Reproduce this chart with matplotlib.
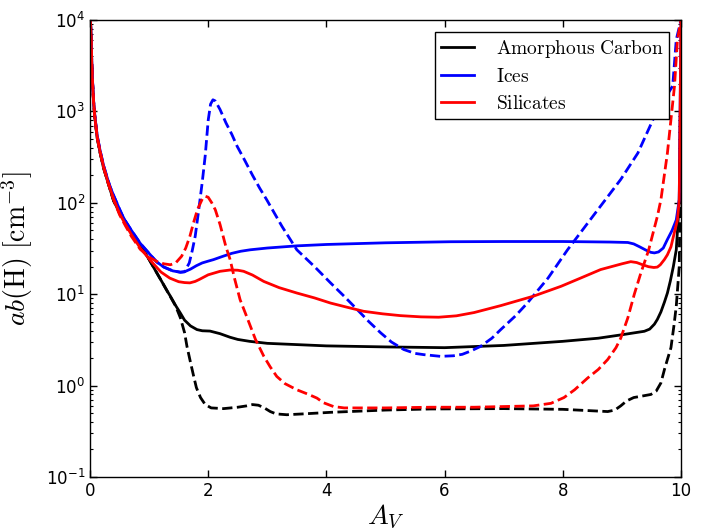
import numpy as np
import matplotlib
matplotlib.use("Agg")
import matplotlib.pyplot as plt

plt.rcParams['mathtext.fontset'] = 'cm'
plt.rcParams['font.family'] = 'DejaVu Sans'

# amorphous carbon (solid / dashed)
carbon_x = [0, 0.01, 0.02, 0.03, 0.04, 0.06, 0.08, 0.12, 0.17, 0.23, 0.3, 0.4, 0.5, 0.6,
            0.68, 0.8, 0.9, 1.0, 1.1, 1.2, 1.3, 1.36, 1.45, 1.53, 1.6, 1.7, 1.81, 1.9, 2.03,
            2.2, 2.37, 2.5, 2.7, 3.0, 4.0, 5.0, 6.0, 7.0, 8.0, 8.6, 9.0, 9.38, 9.47, 9.55,
            9.6, 9.66, 9.72, 9.77, 9.82, 9.87, 9.92, 9.97, 10.0]
carbon_y = [1e4, 9000, 6000, 3300, 2250, 1280, 880, 520, 355, 240, 170, 105, 78, 62,
            50, 39, 30.6, 24, 18.5, 14.3, 11, 9.5, 7.5, 6.2, 5.2, 4.5, 4.1, 3.98, 3.95,
            3.7, 3.38, 3.2, 3.05, 2.9, 2.72, 2.65, 2.6, 2.75, 3.05, 3.3, 3.6, 3.93, 4.15, 4.7,
            5.3, 6.4, 8.2, 10.3, 14, 20, 30.6, 100, 3000]
carbon_d_x = [0, 0.01, 0.02, 0.03, 0.04, 0.06, 0.08, 0.12, 0.17, 0.23, 0.3, 0.4, 0.5, 0.6,
              0.68, 0.8, 0.9, 1.0, 1.1, 1.2, 1.3, 1.36, 1.45, 1.53, 1.6, 1.64, 1.7, 1.75,
              1.8, 1.87, 1.95, 2.05, 2.26, 2.5, 2.65, 2.75, 2.85, 2.95, 3.05, 3.15, 3.33, 3.6,
              4.07, 5.0, 5.76, 7.0, 8.0, 8.5, 8.76, 8.88, 8.98, 9.08, 9.2, 9.35, 9.49, 9.58,
              9.66, 9.72, 9.77, 9.83, 9.88, 9.92, 9.97, 10.0]
carbon_d_y = [1e4, 9000, 6000, 3300, 2250, 1280, 880, 520, 355, 240, 170, 105, 78, 62,
              50, 39, 30.6, 24, 18.5, 14.3, 11, 9.4, 7.4, 5.5, 3.8, 2.7, 1.8, 1.3,
              0.95, 0.74, 0.62, 0.57, 0.56, 0.58, 0.6, 0.62, 0.61, 0.57, 0.52, 0.49, 0.48, 0.49,
              0.51, 0.54, 0.555, 0.56, 0.55, 0.53, 0.52, 0.54, 0.6, 0.68, 0.74, 0.77, 0.8, 0.87,
              1.07, 1.5, 1.93, 2.6, 4.5, 7.4, 20, 1000]

# ices (solid / dashed)
ice_x = [0, 0.01, 0.02, 0.03, 0.04, 0.06, 0.08, 0.12, 0.17, 0.23, 0.3, 0.34, 0.4, 0.5,
         0.56, 0.6, 0.7, 0.85, 1.02, 1.13, 1.25, 1.4, 1.53, 1.6, 1.7, 1.8, 1.9, 2.0, 2.09,
         2.25, 2.4, 2.55, 2.71, 3.0, 3.5, 4.0, 5.0, 6.1, 7.0, 8.0, 8.8, 9.1, 9.2, 9.3, 9.4,
         9.49, 9.55, 9.62, 9.7, 9.77, 9.85, 9.92, 9.97, 10.0]
ice_y = [1e4, 9200, 6300, 3450, 2350, 1330, 920, 550, 375, 255, 180, 150, 120, 85,
         70, 63, 50, 36, 27, 22.5, 19.8, 18, 17.4, 17.6, 18.8, 20.5, 22, 23, 23.9,
         26, 28, 29.5, 30.6, 32, 33.8, 35, 36.5, 37.5, 37.7, 37.7, 37.2, 36.8, 35.5, 33, 30.5,
         28.7, 28.3, 29, 32, 39.7, 50, 65, 108, 1e4]
ice_d_x = [0, 0.01, 0.02, 0.03, 0.04, 0.06, 0.08, 0.12, 0.17, 0.23, 0.3, 0.34, 0.4, 0.5,
           0.56, 0.6, 0.7, 0.85, 1.02, 1.13, 1.25, 1.4, 1.53, 1.6, 1.68, 1.73, 1.78, 1.84,
           1.9, 1.95, 2.0, 2.04, 2.08, 2.12, 2.2, 2.3, 2.4, 2.49, 2.62, 2.75, 2.87, 2.99,
           3.25, 3.5, 3.8, 4.07, 4.3, 4.52, 4.72, 4.92, 5.1, 5.31, 5.5, 5.65, 5.93, 6.15,
           6.3, 6.45, 6.61, 6.8, 6.95, 7.2, 7.4, 7.75, 8.08, 8.5, 8.98, 9.27, 9.55, 9.7,
           9.86, 9.92, 10.0]
ice_d_y = [1e4, 9200, 6300, 3450, 2350, 1330, 920, 550, 375, 255, 180, 150, 120, 85,
           70, 63, 50, 36, 27, 22.5, 19.8, 18, 17.4, 17.6, 22, 30, 43, 84,
           170, 330, 800, 1200, 1340, 1300, 1050, 750, 560, 415, 290, 200, 145, 108,
           55, 30.6, 20, 13.3, 9.5, 6.8, 5.0, 3.77, 3.0, 2.48, 2.25, 2.18, 2.09, 2.12,
           2.2, 2.4, 2.69, 3.3, 4.1, 5.8, 8.0, 15, 30.6, 70, 180, 350, 880, 1300,
           1900, 6100, 1e4]

# silicates (solid / dashed)
sil_x = [0, 0.01, 0.02, 0.03, 0.04, 0.06, 0.08, 0.12, 0.17, 0.23, 0.3, 0.4, 0.5, 0.6,
         0.7, 0.85, 1.02, 1.2, 1.35, 1.5, 1.6, 1.69, 1.78, 1.85, 2.0, 2.2, 2.37, 2.5,
         2.6, 2.75, 2.94, 3.2, 3.5, 3.8, 4.07, 4.35, 4.63, 4.95, 5.25, 5.6, 5.9, 6.2, 6.5,
         6.95, 7.5, 7.97, 8.3, 8.64, 9.0, 9.15, 9.25, 9.35, 9.45, 9.54, 9.6, 9.65, 9.72,
         9.77, 9.83, 9.88, 9.94, 9.97, 10.0]
sil_y = [1e4, 9000, 6100, 3350, 2250, 1300, 900, 535, 365, 248, 172, 110, 76, 58,
         45, 32, 23.5, 17.5, 15, 13.7, 13.4, 13.3, 13.8, 14.5, 16.3, 17.8, 18.4, 18.3,
         17.8, 16.2, 13.8, 11.8, 10.3, 9.1, 8.0, 7.2, 6.5, 6.1, 5.83, 5.65, 5.6, 5.8, 6.3,
         7.5, 9.5, 12.2, 15, 18.6, 21.5, 22.7, 22.2, 21, 20, 19.6, 19.8, 21, 24,
         27, 33, 45, 65, 108, 1e4]
sil_d_x = [0, 0.01, 0.02, 0.03, 0.04, 0.06, 0.08, 0.12, 0.17, 0.23, 0.3, 0.4, 0.5, 0.6,
           0.7, 0.85, 1.02, 1.15, 1.25, 1.36, 1.45, 1.55, 1.62, 1.69, 1.75, 1.82, 1.9,
           1.95, 2.0, 2.06, 2.12, 2.2, 2.3, 2.37, 2.45, 2.54, 2.66, 2.8, 2.94, 3.05, 3.16,
           3.3, 3.5, 3.7, 3.84, 3.95, 4.12, 4.3, 5.0, 5.76, 6.5, 7.0, 7.5, 7.8, 8.02, 8.2,
           8.42, 8.6, 8.76, 8.9, 8.98, 9.1, 9.21, 9.32, 9.45, 9.6, 9.66, 9.77, 9.89, 9.94,
           10.0]
sil_d_y = [1e4, 9000, 6000, 3300, 2200, 1270, 880, 525, 360, 245, 170, 108, 74, 56,
           43, 31, 25, 22.5, 21.5, 21, 22, 26, 32, 43, 60, 85, 110,
           118, 115, 100, 84, 58, 33, 24, 14.5, 8.7, 5.5, 3.2, 2.1, 1.6, 1.26,
           1.05, 0.9, 0.8, 0.73, 0.65, 0.59, 0.57, 0.57, 0.58, 0.58, 0.59, 0.6, 0.64, 0.74, 0.9,
           1.21, 1.5, 1.93, 2.6, 3.3, 5.5, 10, 17, 30, 71, 108, 350, 1900, 6100,
           1e4]

fig = plt.figure(figsize=(7.03, 5.28), dpi=100)
ax = fig.add_axes([90 / 703, 51 / 528, 591 / 703, 457 / 528])

ax.plot(carbon_x, carbon_y, color='k', lw=2, label=r'$\mathrm{Amorphous\ Carbon}$')
ax.plot(carbon_d_x, carbon_d_y, color='k', lw=2, ls='--')
ax.plot(ice_x, ice_y, color='b', lw=2, label=r'$\mathrm{Ices}$')
ax.plot(ice_d_x, ice_d_y, color='b', lw=2, ls='--')
ax.plot(sil_x, sil_y, color='r', lw=2, label=r'$\mathrm{Silicates}$')
ax.plot(sil_d_x, sil_d_y, color='r', lw=2, ls='--')

ax.set_yscale('log')
ax.set_xlim(0, 10)
ax.set_ylim(0.1, 1e4)
ax.set_xticks([0, 2, 4, 6, 8, 10])

ax.tick_params(which='both', direction='in', top=True, right=True, labelsize=12)
ax.tick_params(which='major', length=5, width=1)
ax.tick_params(which='minor', length=2.5, width=0.8)
for sp in ax.spines.values():
    sp.set_linewidth(1.0)

ax.set_xlabel(r'$A_V$', fontsize=20, labelpad=2)
ax.set_ylabel(r'$ab(\mathrm{H})\ [\mathrm{cm}^{-3}]$', fontsize=20, labelpad=8)

leg = ax.legend(loc='upper right', fontsize=14, fancybox=False, framealpha=1,
                edgecolor='k', handlelength=1.7, handletextpad=1.1, borderpad=0.3,
                labelspacing=0.4, borderaxespad=0.6)
leg.get_frame().set_linewidth(1.0)

fig.savefig('out.png', dpi=100)
